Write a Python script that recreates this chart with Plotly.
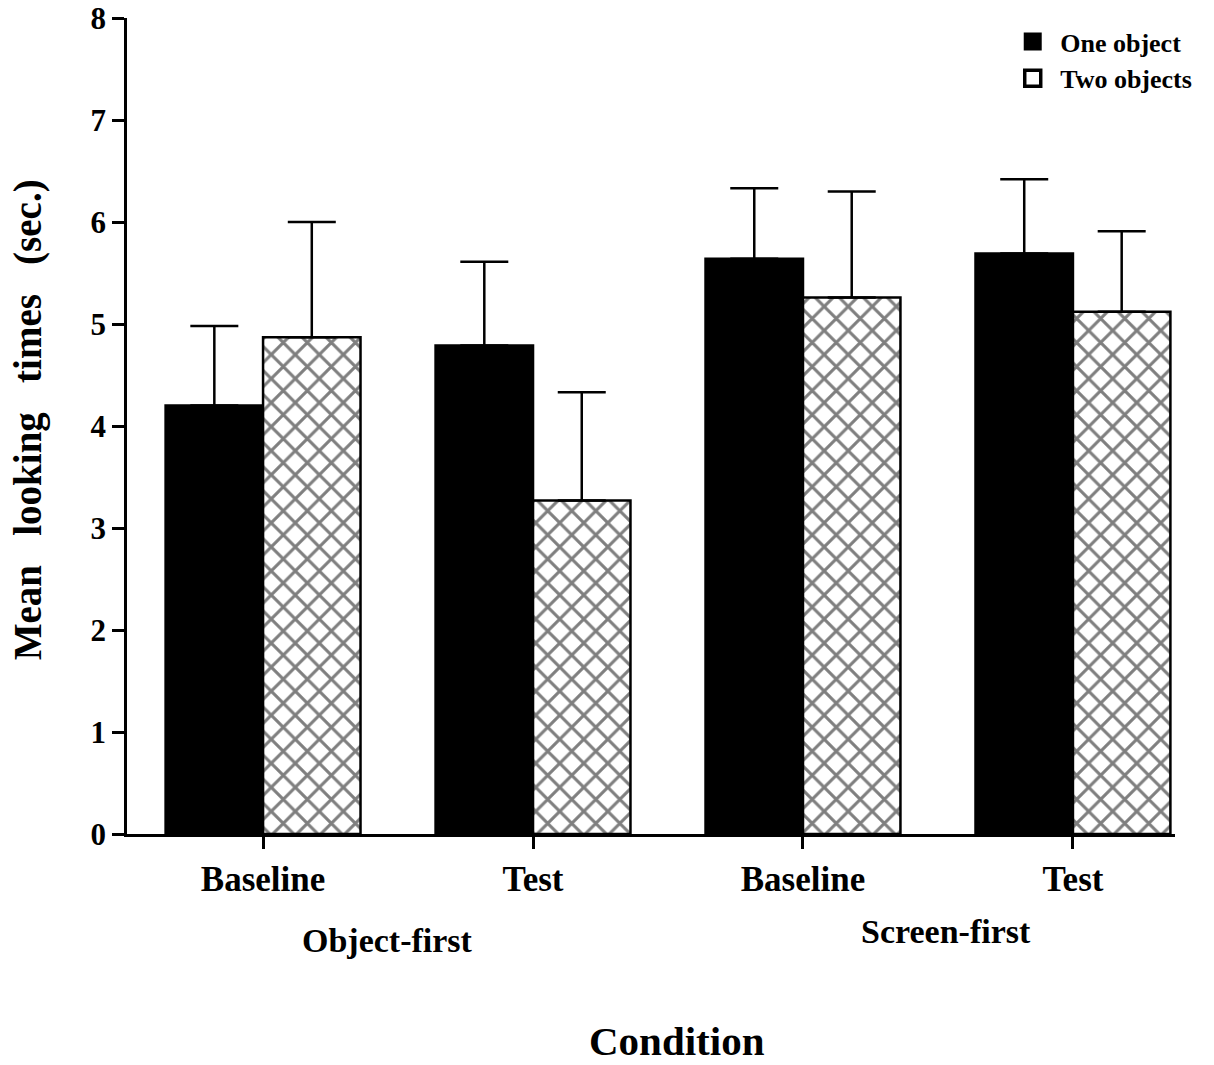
import plotly.graph_objects as go

conditions = ["Baseline", "Test", "Baseline", "Test"]
groups = ["Object-first", "Screen-first"]
series_names = ["One object", "Two objects"]
one_object = [4.20, 4.79, 5.64, 5.69]
one_object_upper = [4.98, 5.61, 6.33, 6.42]
two_objects = [4.87, 3.27, 5.26, 5.12]
two_objects_upper = [6.00, 4.33, 6.30, 5.91]

FONT = "Liberation Serif"
xs = list(range(len(conditions)))

fig = go.Figure()
fig.add_trace(go.Bar(
    x=xs, y=one_object, name=series_names[0], showlegend=False,
    marker=dict(color="black", line=dict(color="black", width=2.5)),
    error_y=dict(type="data", symmetric=False,
                 array=[u - v for u, v in zip(one_object_upper, one_object)],
                 arrayminus=[0] * 4, color="black", thickness=2.5, width=24),
))
fig.add_trace(go.Bar(
    x=xs, y=two_objects, name=series_names[1], showlegend=False,
    marker=dict(color="white", line=dict(color="black", width=2.5),
                pattern=dict(shape="x", fgcolor="black", bgcolor="white",
                             size=17, solidity=0.33)),
    error_y=dict(type="data", symmetric=False,
                 array=[u - v for u, v in zip(two_objects_upper, two_objects)],
                 arrayminus=[0] * 4, color="black", thickness=2.5, width=24),
))
# legend entries (square swatches)
fig.add_trace(go.Scatter(x=[None], y=[None], mode="markers", name=series_names[0],
                         marker=dict(symbol="square", size=20, color="black",
                                     line=dict(color="black", width=2))))
fig.add_trace(go.Scatter(x=[None], y=[None], mode="markers", name=series_names[1],
                         marker=dict(symbol="square", size=18, color="white",
                                     line=dict(color="black", width=3.5))))

fig.update_layout(
    width=1214, height=1065,
    margin=dict(l=127, r=39, t=18, b=231, autoexpand=False),
    paper_bgcolor="white", plot_bgcolor="white",
    barmode="group", bargap=0.278, bargroupgap=0,
    font=dict(family=FONT, color="black", weight="bold"),
    showlegend=True,
    legend=dict(x=0.838, y=1.0, xanchor="left", yanchor="top",
                font=dict(family=FONT, size=26, color="black", weight="bold"),
                bgcolor="rgba(0,0,0,0)", tracegroupgap=0, itemsizing="trace",
                itemwidth=45),
    xaxis=dict(range=[-0.504, 3.378], tickvals=xs, ticktext=conditions,
               automargin=False,
               showline=True, linecolor="black", linewidth=2.5,
               ticks="outside", ticklen=12, tickwidth=2.5, tickcolor="black",
               showgrid=False, zeroline=False,
               tickfont=dict(family=FONT, size=35, color="black", weight="bold")),
    yaxis=dict(range=[0, 8], dtick=1, tick0=0, automargin=False,
               showline=True, linecolor="black", linewidth=2.5,
               ticks="outside", ticklen=12, tickwidth=2.5, tickcolor="black",
               showgrid=False, zeroline=False,
               tickfont=dict(family=FONT, size=31, color="black", weight="bold")),
)

fig.add_annotation(text=groups[0], x=0.46, y=-0.130, xref="x", yref="paper",
                   showarrow=False, yanchor="middle",
                   font=dict(family=FONT, size=34, color="black", weight="bold"))
fig.add_annotation(text=groups[1], x=2.53, y=-0.120, xref="x", yref="paper",
                   showarrow=False, yanchor="middle",
                   font=dict(family=FONT, size=34, color="black", weight="bold"))
fig.add_annotation(text="Condition", x=(677 - 127) / 1048, y=-0.254,
                   xref="paper", yref="paper", showarrow=False, yanchor="middle",
                   font=dict(family=FONT, size=41, color="black", weight="bold"))
fig.add_annotation(text="Mean\u00a0\u00a0\u00a0looking\u00a0\u00a0\u00a0times\u00a0\u00a0\u00a0(sec.)",
                   x=(28 - 127) / 1048, y=0.507, xref="paper", yref="paper",
                   textangle=-90, showarrow=False, xanchor="center", yanchor="middle",
                   font=dict(family=FONT, size=39, color="black", weight="bold"))

fig.write_html("out.html")
